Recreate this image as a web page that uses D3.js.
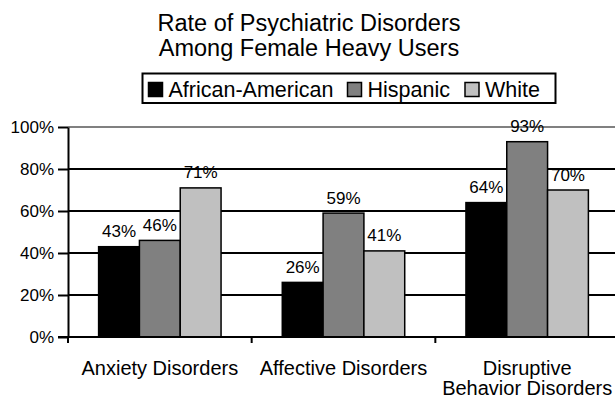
<!DOCTYPE html>
<html>
<head>
<meta charset="utf-8">
<script src="https://cdn.jsdelivr.net/npm/d3@7"></script>
<style>
  html, body { margin: 0; padding: 0; background: #fff; }
  svg { display: block; font-family: "Liberation Sans", Arial, sans-serif; }
</style>
</head>
<body>
<svg id="chart" width="615" height="404"></svg>
<script>
// Disorder categories (x axis), split into display lines
const categories = ["Anxiety Disorders", "Affective Disorders", "Disruptive Behavior Disorders"];
const categoryLines = [["Anxiety Disorders"], ["Affective Disorders"], ["Disruptive", "Behavior Disorders"]];

// Groups compared within each category
const seriesNames = ["African-American", "Hispanic", "White"];
const seriesColors = ["#000000", "#808080", "#c0c0c0"];

// Rate per group, one array per series (fraction of heavy users)
const africanAmerican = [0.43, 0.26, 0.64];
const hispanic = [0.46, 0.59, 0.93];
const white = [0.71, 0.41, 0.70];
const seriesValues = [africanAmerican, hispanic, white];

// Y axis ticks
const yTicks = [0, 0.2, 0.4, 0.6, 0.8, 1.0];

const titleLines = ["Rate of Psychiatric Disorders", "Among Female Heavy Users"];

const svg = d3.select("#chart");

const plotLeft = 68, plotRight = 619, plotTop = 127, plotBottom = 337;

const x = d3.scaleBand().domain(categories).range([plotLeft, plotRight]).paddingInner(0).paddingOuter(0);
const xs = d3.scaleBand().domain(seriesNames).range([0, x.bandwidth()]).paddingInner(0).paddingOuter(0.75);
const y = d3.scaleLinear().domain([0, 1]).range([plotBottom, plotTop]);
const pct = d3.format(".0%");

// Title
svg.append("g").selectAll("text").data(titleLines).join("text")
  .attr("x", 309).attr("y", (d, i) => 31 + i * 24.5)
  .attr("text-anchor", "middle").attr("font-size", 23.5).attr("fill", "#000")
  .text(d => d);

// Legend
const legend = svg.append("g");
legend.append("rect").attr("x", 142.5).attr("y", 73.5).attr("width", 413).attr("height", 29.5)
  .attr("fill", "#fff").attr("stroke", "#000").attr("stroke-width", 2);
const legendSquareX = [148.5, 347.5, 465];
const legendItems = legend.selectAll("g.item").data(seriesNames).join("g").attr("class", "item");
legendItems.append("rect")
  .attr("x", (d, i) => legendSquareX[i]).attr("y", 82.5).attr("width", 14).attr("height", 14)
  .attr("fill", (d, i) => seriesColors[i]).attr("stroke", "#000").attr("stroke-width", 1.5);
legendItems.append("text")
  .attr("x", (d, i) => legendSquareX[i] + 20).attr("y", 97)
  .attr("font-size", 21.5).attr("fill", "#000")
  .text(d => d);

// Horizontal gridlines
svg.append("g").selectAll("line").data(yTicks.filter(t => t > 0)).join("line")
  .attr("x1", plotLeft).attr("x2", 615)
  .attr("y1", d => y(d)).attr("y2", d => y(d))
  .attr("stroke", d => d === 1 ? "#808080" : "#000").attr("stroke-width", 2);

// Bars
const groups = svg.append("g").selectAll("g").data(categories).join("g")
  .attr("transform", d => `translate(${x(d)},0)`);
groups.selectAll("rect").data((c, ci) => seriesNames.map((s, si) => ({ s, si, v: seriesValues[si][ci] })))
  .join("rect")
  .attr("x", d => xs(d.s)).attr("width", xs.bandwidth())
  .attr("y", d => y(d.v)).attr("height", d => y(0) - y(d.v))
  .attr("fill", d => seriesColors[d.si]).attr("stroke", "#000").attr("stroke-width", 1.5);

// Value labels
groups.selectAll("text").data((c, ci) => seriesNames.map((s, si) => ({ s, si, v: seriesValues[si][ci] })))
  .join("text")
  .attr("x", d => xs(d.s) + xs.bandwidth() / 2).attr("y", d => y(d.v) - 9.5)
  .attr("text-anchor", "middle").attr("font-size", 17).attr("fill", "#000")
  .text(d => pct(d.v));

// Y axis
const yAxis = svg.append("g").attr("transform", `translate(${plotLeft},0)`)
  .call(d3.axisLeft(y).tickValues(yTicks).tickFormat(pct).tickSize(10).tickSizeOuter(0).tickPadding(4));
yAxis.select(".domain").attr("stroke", "#000").attr("stroke-width", 2);
yAxis.selectAll(".tick line").attr("stroke", "#000").attr("stroke-width", 2);
yAxis.selectAll(".tick text").attr("font-size", 17).attr("fill", "#000")
  .attr("font-family", "Liberation Sans, Arial, sans-serif");

// X axis (ticks between categories)
const xAxisG = svg.append("g");
xAxisG.append("line").attr("x1", plotLeft - 10).attr("x2", 615)
  .attr("y1", plotBottom).attr("y2", plotBottom).attr("stroke", "#000").attr("stroke-width", 2);
xAxisG.selectAll("line.tick").data(categories).join("line").attr("class", "tick")
  .attr("x1", d => x(d)).attr("x2", d => x(d))
  .attr("y1", plotBottom).attr("y2", plotBottom + 6).attr("stroke", "#000").attr("stroke-width", 2);

// Category labels
const catLabels = svg.append("g").selectAll("text").data(categories).join("text")
  .attr("x", d => x(d) + x.bandwidth() / 2)
  .attr("text-anchor", "middle").attr("font-size", 20).attr("fill", "#000");
catLabels.selectAll("tspan").data((d, i) => categoryLines[i]).join("tspan")
  .attr("x", function() { return d3.select(this.parentNode).attr("x"); })
  .attr("y", (d, i) => 375 + i * 20)
  .text(d => d);
</script>
</body>
</html>
